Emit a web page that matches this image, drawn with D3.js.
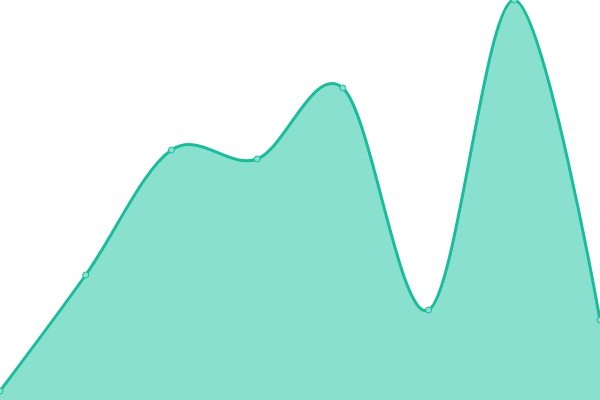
<!DOCTYPE html>
<html>
<head>
<meta charset="utf-8">
<script src="https://cdn.jsdelivr.net/npm/d3@7"></script>
<style>
  html, body { margin: 0; padding: 0; background: #fff; }
  svg { display: block; }
</style>
</head>
<body>
<svg></svg>
<script>
const w = 600;
const h = 400;

// one value per point, left to right
const steps = [0, 1, 2, 3, 4, 5, 6, 7];
const values = [9, 125, 250, 241, 312, 90, 400, 80];

const svg = d3.select('svg').attr('width', w).attr('height', h);

const x = d3.scaleLinear().domain([0, steps.length - 1]).range([0, w]);
const y = d3.scaleLinear().domain([0, 400]).range([h, 0]);

const data = steps.map((s, i) => ({ s, v: values[i] }));

const area = d3
  .area()
  .x(d => x(d.s))
  .y0(h)
  .y1(d => y(d.v))
  .curve(d3.curveCardinal.tension(0));

const line = d3
  .line()
  .x(d => x(d.s))
  .y(d => y(d.v))
  .curve(d3.curveCardinal.tension(0));

svg
  .append('path')
  .datum(data)
  .attr('d', area)
  .attr('fill', '#8ae0cf');

svg
  .append('path')
  .datum(data)
  .attr('d', line)
  .attr('fill', 'none')
  .attr('stroke', '#1abc9c')
  .attr('stroke-width', 3);

svg
  .selectAll('.dot')
  .data(data)
  .enter()
  .append('circle')
  .attr('class', 'dot')
  .attr('cx', d => x(d.s))
  .attr('cy', d => y(d.v))
  .attr('r', 3)
  .attr('fill', '#8ae0cf')
  .attr('stroke', '#1abc9c')
  .attr('stroke-width', 1);
</script>
</body>
</html>
